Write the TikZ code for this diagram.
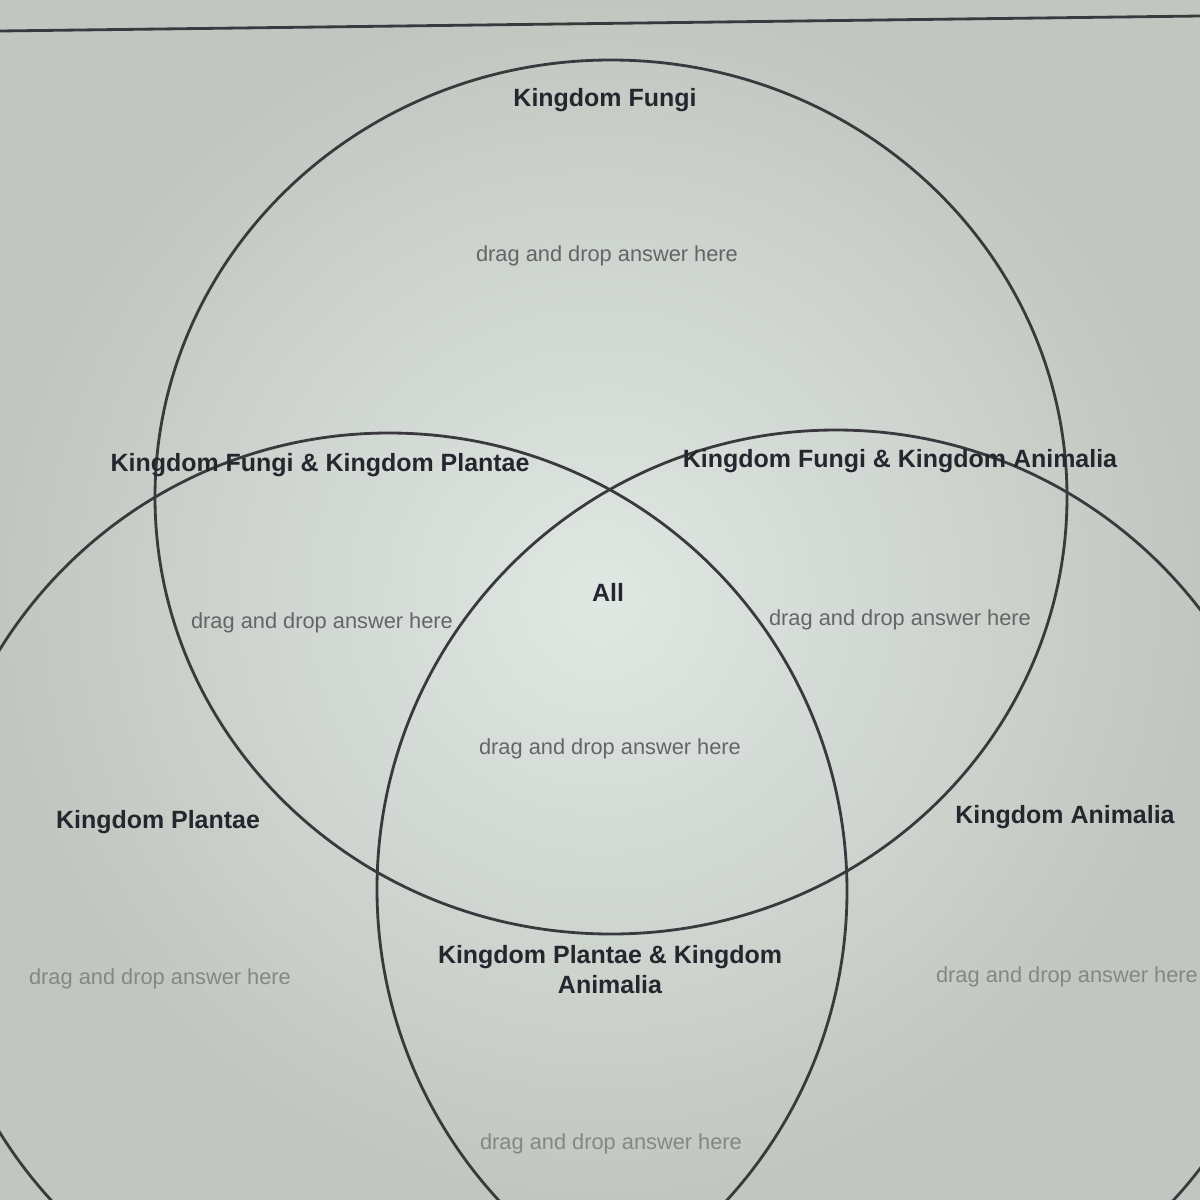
\documentclass[tikz,border=0pt]{standalone}
\usepackage{fontspec}
\setmainfont{Liberation Sans}
\usepackage{tikz}
\usetikzlibrary{positioning}

\definecolor{screen}{RGB}{194,198,192}
\definecolor{glow}{RGB}{224,232,228}
\definecolor{ringgray}{RGB}{58,58,62}
\definecolor{labelink}{RGB}{38,38,46}
\definecolor{dropgray}{RGB}{98,102,102}
\definecolor{fadegray}{RGB}{130,136,132}

\begin{document}
\begin{tikzpicture}[x=0.01cm, y=-0.01cm,
        ring/.style={draw=ringgray, line width=0.8pt},
        kingdom/.style={font=\fontsize{7.1}{8.5}\selectfont\bfseries, text=labelink, inner sep=0pt, align=center},
        dropzone/.style={font=\fontsize{6.2}{7.5}\selectfont, text=dropgray, inner sep=0pt},
        fadedzone/.style={dropzone, text=fadegray}]
            % Screen
            \clip (0,0) rectangle (1200,1200);
            \fill[screen] (0,0) rectangle (1200,1200);
            \shade[inner color=glow, outer color=screen] (0,0) rectangle (1200,1200);
            \draw[ring] (0,31) -- (1200,16);

            % Circles
            \coordinate (fungiC) at (611,497);
            \coordinate (plantaeC) at (389,891);
            \coordinate (animaliaC) at (836,889);
            \draw[ring] (fungiC) ellipse [x radius=456, y radius=437];
            \draw[ring] (plantaeC) circle [radius=458];
            \draw[ring] (animaliaC) circle [radius=459];

            % Kingdom Fungi
            \node[kingdom] (fungi) at (605,100) {Kingdom Fungi};
            \node[dropzone] (fungiDrop) at (607,256) {drag and drop answer here};

            % Overlaps with Fungi
            \node[kingdom] (fungiPlantae) at (320,465) {Kingdom Fungi \& Kingdom Plantae};
            \node[kingdom] (fungiAnimalia) at (900,461) {Kingdom Fungi \& Kingdom Animalia};
            \node[dropzone] (fpDrop) at (322,623) {drag and drop answer here};
            \node[dropzone] (faDrop) at (900,620) {drag and drop answer here};

            % Middle
            \node[kingdom] (all) at (608,592) {All};
            \node[dropzone] (allDrop) at (610,749) {drag and drop answer here};

            % Plantae and Animalia
            \node[kingdom] (plantae) at (158,822) {Kingdom Plantae};
            \node[kingdom] (animalia) at (1065,817) {Kingdom Animalia};
            \node[fadedzone] (plantaeDrop) at (160,979) {drag and drop answer here};
            \node[fadedzone] (animaliaDrop) at (1067,977) {drag and drop answer here};

            % Plantae with Animalia
            \node[kingdom] (plantaeAnimalia) at (610,970) {Kingdom Plantae \& Kingdom\\Animalia};
            \node[fadedzone] (paDrop) at (611,1144) {drag and drop answer here};
        \end{tikzpicture}
\end{document}
